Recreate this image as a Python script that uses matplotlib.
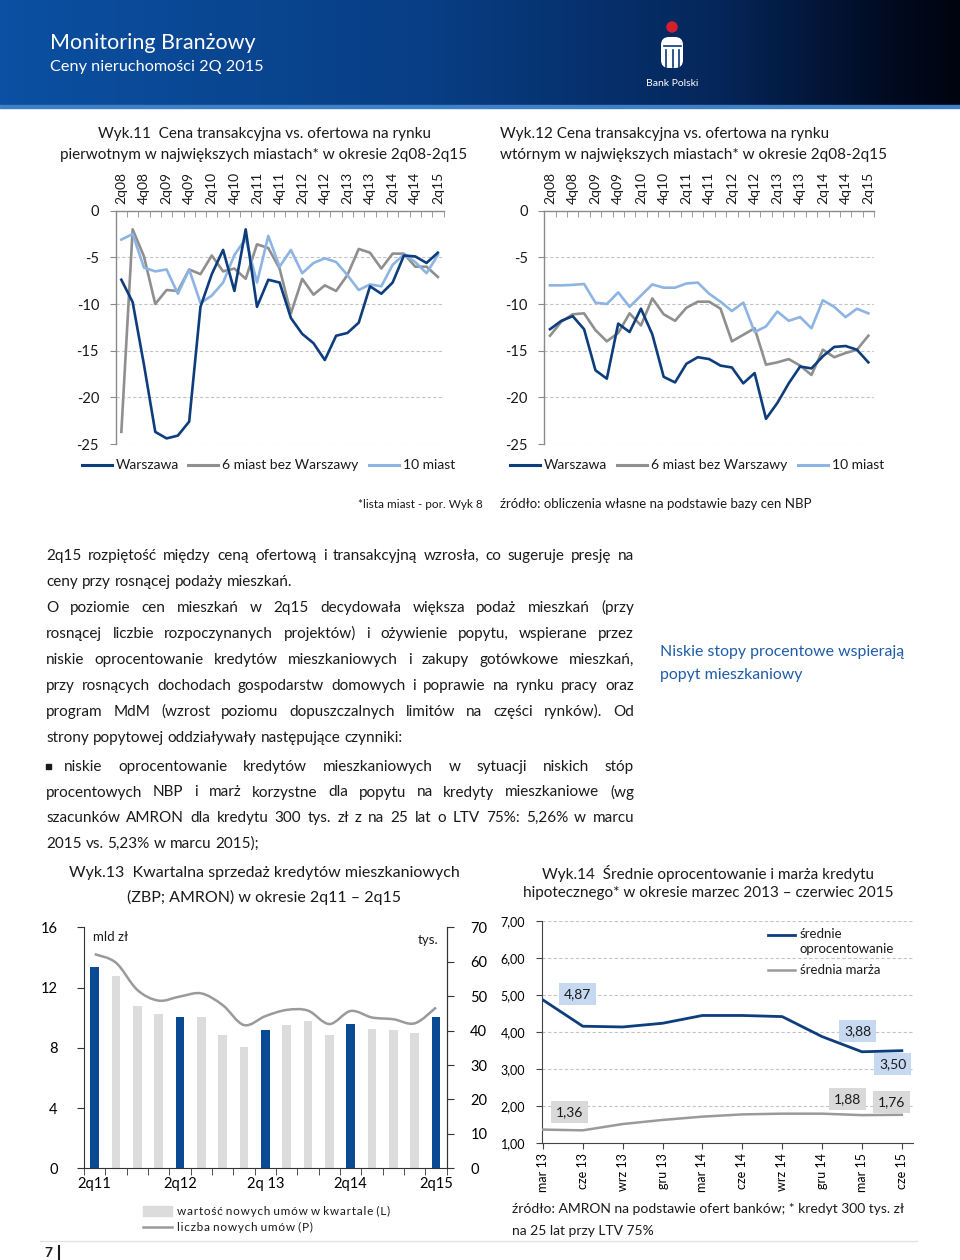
import matplotlib
matplotlib.use('Agg')
import matplotlib.pyplot as plt
import numpy as np
from matplotlib.lines import Line2D
from matplotlib.patches import Rectangle, FancyBboxPatch, Circle, PathPatch
from matplotlib.path import Path

plt.rcParams['font.family'] = ['Lato', 'DejaVu Sans']

W, H = 960, 1260

# ---------------- data ----------------
kwartaly = ['2q08', '3q08', '4q08', '1q09', '2q09', '3q09', '4q09', '1q10', '2q10', '3q10',
            '4q10', '1q11', '2q11', '3q11', '4q11', '1q12', '2q12', '3q12', '4q12', '1q13',
            '2q13', '3q13', '4q13', '1q14', '2q14', '3q14', '4q14', '1q15', '2q15']

# Wyk.11 rynek pierwotny
warszawa_pierw = [-7.4, -9.8, -16.5, -23.7, -24.4, -24.1, -22.6, -10.3, -6.8, -4.2, -8.6, -2.0,
                  -10.3, -7.4, -7.7, -11.5, -13.2, -14.2, -16.0, -13.4, -13.1, -12.0, -8.1, -8.9,
                  -7.7, -4.8, -4.9, -5.6, -4.5]
miast6_pierw = [-23.7, -2.0, -4.9, -10.0, -8.5, -8.6, -6.3, -6.8, -4.8, -6.5, -6.2, -7.3, -3.6,
                -4.0, -6.2, -11.0, -7.3, -9.0, -8.0, -8.6, -6.9, -4.1, -4.5, -6.2, -4.6, -4.6,
                -6.0, -6.0, -7.1]
miast10_pierw = [-3.1, -2.5, -6.1, -6.5, -6.3, -8.9, -6.3, -9.9, -9.1, -7.7, -4.75, -3.0, -7.7,
                 -2.7, -6.0, -4.2, -6.7, -5.6, -5.1, -5.5, -6.9, -8.5, -7.9, -8.1, -5.8, -4.7,
                 -5.5, -6.7, -4.75]

# Wyk.12 rynek wtorny
warszawa_wt = [-12.7, -11.8, -11.3, -12.7, -17.1, -18.0, -12.1, -13.0, -10.5, -13.25, -17.8,
               -18.4, -16.4, -15.7, -15.9, -16.6, -16.8, -18.5, -17.4, -22.3, -20.6, -18.5,
               -16.7, -16.9, -15.6, -14.6, -14.5, -14.9, -16.25]
miast6_wt = [-13.4, -11.9, -11.1, -11.0, -12.8, -14.0, -13.1, -11.0, -12.3, -9.4, -11.1, -11.8,
             -10.4, -9.75, -9.75, -10.5, -14.0, -13.3, -12.6, -16.5, -16.25, -15.9, -16.6, -17.6,
             -14.9, -15.7, -15.25, -14.9, -13.4]
miast10_wt = [-8.0, -8.0, -7.95, -7.85, -9.85, -10.0, -8.75, -10.3, -9.1, -7.9, -8.25, -8.25,
              -7.8, -7.7, -8.9, -9.75, -10.75, -9.85, -13.0, -12.4, -10.8, -11.8, -11.4, -12.6,
              -9.6, -10.3, -11.4, -10.5, -11.0]

# Wyk.13 kredyty
kw_kredyty = ['2q11', '3q11', '4q11', '1q12', '2q12', '3q12', '4q12', '1q13', '2q13', '3q13',
              '4q13', '1q14', '2q14', '3q14', '4q14', '1q15', '2q15']
kw_etykiety = ['2q11', '2q12', '2q 13', '2q14', '2q15']
wartosc_umow = [13.34, 12.79, 10.77, 10.22, 10.02, 10.02, 8.83, 8.03, 9.16, 9.51, 9.78, 8.83,
                9.58, 9.23, 9.16, 8.96, 10.02]
liczba_umow = [62.2, 59.7, 51.8, 48.7, 49.9, 50.8, 47.4, 41.6, 44.2, 46.0, 45.8, 41.9, 45.7,
               43.8, 43.3, 42.1, 46.7]

# Wyk.14 oprocentowanie
miesiace = ['mar 13', 'cze 13', 'wrz 13', 'gru 13', 'mar 14', 'cze 14', 'wrz 14', 'gru 14',
            'mar 15', 'cze 15']
oprocentowanie = [4.87, 4.16, 4.14, 4.24, 4.45, 4.45, 4.42, 3.88, 3.47, 3.50]
marza = [1.37, 1.35, 1.52, 1.63, 1.72, 1.78, 1.80, 1.80, 1.76, 1.77]
etyk_opr = {0: '4,87', 7: '3,88', 9: '3,50'}
etyk_marza = {0: '1,36', 7: '1,88', 9: '1,76'}

# ---------------- colours ----------------
C_DARK = '#0d3d7c'
C_GRAY = '#8f8f8f'
C_LIGHT = '#8db4e2'
C_BAR_DARK = '#0a4a94'
C_BAR_LIGHT = '#dcdcdc'
C_TEXT = '#1a1a1a'

fig = plt.figure(figsize=(W / 100, H / 100), dpi=100)
page = fig.add_axes([0, 0, 1, 1], zorder=0)
page.set_xlim(0, W)
page.set_ylim(H, 0)
page.axis('off')


def px_axes(l, t, r, b):
    ax = fig.add_axes([l / W, 1 - b / H, (r - l) / W, (b - t) / H], zorder=2)
    ax.set_facecolor('none')
    return ax


# ---------------- header ----------------
stops = np.array([0.0, 0.45, 0.75, 0.93, 1.0])
cols = np.array([[11, 80, 162], [8, 62, 132], [5, 38, 90], [1, 10, 32], [0, 4, 14]]) / 255
xs = np.linspace(0, 1, 400)
grad = np.stack([np.interp(xs, stops, cols[:, i]) for i in range(3)], axis=-1)[None, :, :]
page.imshow(grad, extent=[0, W, 105, 0], aspect='auto', zorder=0)
page.add_patch(Rectangle((0, 105), W, 3, color='#3f7fc6', zorder=1))
page.text(50, 43, 'Monitoring Branżowy', color='white', fontsize=15.5, va='center')
page.text(50, 67, 'Ceny nieruchomości 2Q 2015', color='white', fontsize=11.7, va='center')
# logo
page.add_patch(Circle((672, 27), 5, color='#d5202f', zorder=3))
page.add_patch(FancyBboxPatch((661, 37), 22, 31, boxstyle='round,pad=0,rounding_size=8',
                              fc='white', ec='none', zorder=3))
for x0 in (666, 673, 679):
    page.plot([x0, x0], [50, 67], color='#083a7a', lw=1.2, zorder=4)
page.plot([664, 681], [46, 46], color='#083a7a', lw=1.2, zorder=4)
page.text(672, 84, 'Bank Polski', color='white', fontsize=7.5, ha='center', va='center')

# ---------------- chart titles ----------------
page.text(264, 134, 'Wyk.11  Cena transakcyjna vs. ofertowa na rynku', fontsize=11,
          ha='center', va='center', color=C_TEXT)
page.text(264, 155, 'pierwotnym w największych miastach* w okresie 2q08-2q15', fontsize=11,
          ha='center', va='center', color=C_TEXT)
page.text(500, 134, 'Wyk.12 Cena transakcyjna vs. ofertowa na rynku', fontsize=11,
          ha='left', va='center', color=C_TEXT)
page.text(500, 155, 'wtórnym w największych miastach* w okresie 2q08-2q15', fontsize=11,
          ha='left', va='center', color=C_TEXT)


def quarter_chart(ax, s_w, s_6, s_10):
    x = np.arange(len(kwartaly))
    ax.plot(x, s_6, color=C_GRAY, lw=1.9, zorder=3)
    ax.plot(x, s_10, color=C_LIGHT, lw=1.9, zorder=4)
    ax.plot(x, s_w, color=C_DARK, lw=1.9, zorder=5)
    ax.set_xlim(-0.5, len(kwartaly) - 0.5)
    ax.set_ylim(-25, 0)
    ax.set_yticks([0, -5, -10, -15, -20, -25])
    ax.set_yticklabels(['0', '-5', '-10', '-15', '-20', '-25'])
    for v in [-5, -10, -15, -20, -25]:
        ax.axhline(v, color='#c4c4c4', lw=0.8, ls=(0, (3, 2)), zorder=1)
    ax.xaxis.tick_top()
    ax.set_xticks(x[::2])
    ax.set_xticklabels(kwartaly[::2], rotation=90, fontsize=10, color=C_TEXT)
    ax.set_xticks(np.arange(len(kwartaly) + 1) - 0.5, minor=True)
    ax.tick_params(axis='x', which='major', length=0, pad=5)
    ax.tick_params(axis='x', which='minor', top=True, direction='in', length=4,
                   color='#8a8a8a')
    ax.tick_params(axis='y', length=4, color='#8a8a8a', labelsize=10.5, labelcolor=C_TEXT,
                   pad=8)
    for s in ['right', 'bottom']:
        ax.spines[s].set_visible(False)
    for s in ['top', 'left']:
        ax.spines[s].set_color('#8a8a8a')
        ax.spines[s].set_linewidth(1.0)


ax1 = px_axes(115.7, 210.7, 443.5, 444)
quarter_chart(ax1, warszawa_pierw, miast6_pierw, miast10_pierw)
ax2 = px_axes(544.3, 210.7, 874, 444)
quarter_chart(ax2, warszawa_wt, miast6_wt, miast10_wt)


def legend_item(x, y, color, label, fs=10, seg=30, lw=2.2, gap=4):
    page.add_line(Line2D([x, x + seg], [y, y], color=color, lw=lw))
    page.text(x + seg + gap, y, label, fontsize=fs, va='center', color=C_TEXT)


legend_item(82, 465, C_DARK, 'Warszawa')
legend_item(188, 465, C_GRAY, '6 miast bez Warszawy')
legend_item(369, 465, C_LIGHT, '10 miast')
legend_item(510, 465, C_DARK, 'Warszawa')
legend_item(617, 465, C_GRAY, '6 miast bez Warszawy')
legend_item(798, 465, C_LIGHT, '10 miast')

page.text(483, 504, '*lista miast - por. Wyk 8', fontsize=8.5, ha='right', va='center',
          color=C_TEXT)
page.text(500, 504, 'źródło: obliczenia własne na podstawie bazy cen NBP', fontsize=9.5,
          ha='left', va='center', color=C_TEXT)

# ---------------- body text ----------------
renderer = fig.canvas.get_renderer()
BODY_FS = 11


def text_line(s, x0, x1, y, justify):
    words = s.split()
    objs = [page.text(0, y, w, fontsize=BODY_FS, va='baseline', color=C_TEXT) for w in words]
    widths = [o.get_window_extent(renderer).width for o in objs]
    if justify and len(words) > 1:
        gap = (x1 - x0 - sum(widths)) / (len(words) - 1)
    else:
        gap = BODY_FS * 0.36
    x = x0
    for o, w in zip(objs, widths):
        o.set_x(x)
        x += w + gap


body = [
    ('2q15 rozpiętość między ceną ofertową i transakcyjną wzrosła, co sugeruje presję na', 46, True),
    ('ceny przy rosnącej podaży mieszkań.', 46, False),
    ('O poziomie cen mieszkań w 2q15 decydowała większa podaż mieszkań (przy', 46, True),
    ('rosnącej liczbie rozpoczynanych projektów) i ożywienie popytu, wspierane przez', 46, True),
    ('niskie oprocentowanie kredytów mieszkaniowych i zakupy gotówkowe mieszkań,', 46, True),
    ('przy rosnących dochodach gospodarstw domowych i poprawie na rynku pracy oraz', 46, True),
    ('program MdM (wzrost poziomu dopuszczalnych limitów na części rynków). Od', 46, True),
    ('strony popytowej oddziaływały następujące czynniki:', 46, False),
]
for i, (s, x0, j) in enumerate(body):
    text_line(s, x0, 634, 560 + 26 * i, j)

bullet = [
    ('niskie oprocentowanie kredytów mieszkaniowych w sytuacji niskich stóp', 64, True),
    ('procentowych NBP i marż korzystne dla popytu na kredyty mieszkaniowe (wg', 46, True),
    ('szacunków AMRON dla kredytu 300 tys. zł z na 25 lat o LTV 75%: 5,26% w marcu', 46, True),
    ('2015 vs. 5,23% w marcu 2015);', 46, False),
]
page.add_patch(Rectangle((46, 764), 4.5, 4.5, color=C_TEXT))
for i, (s, x0, j) in enumerate(bullet):
    text_line(s, x0, 634, 771 + 25.5 * i, j)

page.text(660, 652, 'Niskie stopy procentowe wspierają', fontsize=11.4, color='#1f5ca8',
          va='center')
page.text(660, 675, 'popyt mieszkaniowy', fontsize=11.4, color='#1f5ca8', va='center')

# ---------------- Wyk.13 ----------------
page.text(264, 873, 'Wyk.13  Kwartalna sprzedaż kredytów mieszkaniowych', fontsize=11.5,
          ha='center', va='center', color=C_TEXT)
page.text(264, 897, '(ZBP; AMRON) w okresie 2q11 – 2q15', fontsize=11.5, ha='center',
          va='center', color=C_TEXT)

ax3 = px_axes(84, 927.3, 446.7, 1168.3)
xk = np.arange(len(kw_kredyty))
bar_cols = [C_BAR_DARK if k.startswith('2q') else C_BAR_LIGHT for k in kw_kredyty]
ax3.bar(xk, wartosc_umow, width=0.4, color=bar_cols, zorder=2)
ax3.set_xlim(-0.5, len(kw_kredyty) - 0.5)
ax3.set_ylim(0, 16)
ax3.set_yticks([0, 4, 8, 12, 16])
ax3.set_xticks(xk[::4])
ax3.set_xticklabels(kw_etykiety)
ax3.set_xticks(np.arange(len(kw_kredyty) + 1) - 0.5, minor=True)
ax3.tick_params(axis='x', which='major', length=0, labelsize=10.5, pad=6)
ax3.tick_params(axis='x', which='minor', length=5, direction='out', color='#333333')
ax3.tick_params(axis='y', length=5, direction='out', labelsize=10.5, pad=14, color='#333333')
ax3.spines['top'].set_visible(False)
for s in ['left', 'bottom', 'right']:
    ax3.spines[s].set_color('#333333')

ax3b = ax3.twinx()
ax3b.set_ylim(0, 70)
ax3b.set_yticks(range(0, 71, 10))
ax3b.tick_params(axis='y', length=5, direction='out', labelsize=10.5, pad=12, color='#333333')
for s in ['left', 'top', 'bottom']:
    ax3b.spines[s].set_visible(False)
ax3b.spines['right'].set_color('#333333')


def smooth_path(x, y):
    x = np.asarray(x, float)
    y = np.asarray(y, float)
    n = len(x)
    verts = [(x[0], y[0])]
    codes = [Path.MOVETO]
    for i in range(n - 1):
        i0 = max(i - 1, 0)
        i3 = min(i + 2, n - 1)
        c1 = (x[i] + (x[i + 1] - x[i0]) / 6, y[i] + (y[i + 1] - y[i0]) / 6)
        c2 = (x[i + 1] - (x[i3] - x[i]) / 6, y[i + 1] - (y[i3] - y[i]) / 6)
        verts += [c1, c2, (x[i + 1], y[i + 1])]
        codes += [Path.CURVE4] * 3
    return Path(verts, codes)


ax3b.add_patch(PathPatch(smooth_path(xk, liczba_umow), fc='none', ec='#9a9a9a', lw=1.8,
                         zorder=3))
page.text(93, 937, 'mld zł', fontsize=9.5, va='center', color=C_TEXT)
page.text(418, 940, 'tys.', fontsize=9.5, va='center', color=C_TEXT)

page.add_patch(Rectangle((143, 1206), 29, 10, color=C_BAR_LIGHT))
page.text(177, 1211, 'w a r t o ś ć   n o w y c h   u m ó w   w   k w a r t a l e   ( L )'
          .replace('   ', '\u2009\u2009').replace(' ', '\u200a'), fontsize=8.5, va='center',
          color=C_TEXT)
page.add_line(Line2D([143, 172], [1227, 1227], color='#9a9a9a', lw=1.8))
page.text(177, 1227, 'l i c z b a   n o w y c h   u m ó w   ( P )'
          .replace('   ', '\u2009\u2009').replace(' ', '\u200a'), fontsize=8.5, va='center',
          color=C_TEXT)

# ---------------- Wyk.14 ----------------
page.text(708, 873, 'Wyk.14  Średnie oprocentowanie i marża kredytu', fontsize=11,
          ha='center', va='center', color=C_TEXT)
page.text(708, 893, 'hipotecznego* w okresie marzec 2013 – czerwiec 2015', fontsize=11,
          ha='center', va='center', color=C_TEXT)

ax4 = px_axes(541.7, 921, 913, 1143.3)
xm = np.arange(len(miesiace))
ax4.plot(xm, marza, color='#9a9a9a', lw=1.8, zorder=3)
ax4.plot(xm, oprocentowanie, color=C_DARK, lw=2.0, zorder=4)
ax4.set_xlim(-0.03, 9.28)
ax4.set_ylim(1, 7)
ax4.set_yticks(range(1, 8))
ax4.set_yticklabels([f'{v},00' for v in range(1, 8)])
for v in range(2, 8):
    ax4.axhline(v, color='#c4c4c4', lw=0.8, ls=(0, (3, 2)), zorder=1)
ax4.set_xticks(xm)
ax4.set_xticklabels(miesiace, rotation=90, fontsize=9)
ax4.tick_params(axis='x', length=4, direction='out', color='#444444', pad=3)
ax4.tick_params(axis='y', length=4, direction='out', color='#444444', labelsize=9, pad=8)
for s in ['top', 'right']:
    ax4.spines[s].set_visible(False)
for s in ['left', 'bottom']:
    ax4.spines[s].set_color('#444444')

lbl_off_opr = {0: (0.87, 0.15), 7: (0.89, 0.15), 9: (-0.23, -0.36)}
lbl_off_mar = {0: (0.67, 0.48), 7: (0.64, 0.39), 9: (-0.27, 0.35)}
for i, t in etyk_opr.items():
    dx, dy = lbl_off_opr[i]
    ax4.text(i + dx, oprocentowanie[i] + dy, t, fontsize=10, ha='center', va='center',
             color=C_TEXT, zorder=5,
             bbox=dict(boxstyle='square,pad=0.35', fc='#c6d9f1', ec='none'))
for i, t in etyk_marza.items():
    dx, dy = lbl_off_mar[i]
    ax4.text(i + dx, marza[i] + dy, t, fontsize=10, ha='center', va='center',
             color=C_TEXT, zorder=5,
             bbox=dict(boxstyle='square,pad=0.35', fc='#d9d9d9', ec='none'))

page.add_line(Line2D([768, 795], [935, 935], color=C_DARK, lw=2.0))
page.text(800, 934, 'średnie', fontsize=9.5, va='center', color=C_TEXT)
page.text(800, 949, 'oprocentowanie', fontsize=9.5, va='center', color=C_TEXT)
page.add_line(Line2D([768, 795], [970, 970], color='#9a9a9a', lw=1.8))
page.text(800, 970, 'średnia marża', fontsize=9.5, va='center', color=C_TEXT)

page.text(512, 1209, 'źródło: AMRON na podstawie ofert banków; * kredyt 300 tys. zł',
          fontsize=10, va='center', color=C_TEXT)
page.text(512, 1231, 'na 25 lat przy LTV 75%', fontsize=10, va='center', color=C_TEXT)

# ---------------- footer ----------------
page.add_line(Line2D([40, 917], [1241, 1241], color='#e2e2e2', lw=1.0))
page.text(44, 1253, '7', fontsize=10, fontweight='bold', va='center', color=C_TEXT)
page.add_line(Line2D([59, 59], [1246, 1260], color=C_TEXT, lw=1.5))

fig.savefig('out.png', dpi=100)
